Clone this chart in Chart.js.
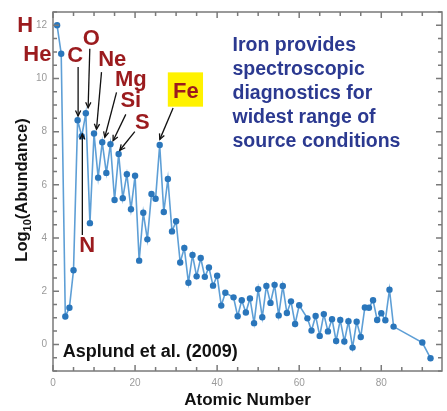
<!DOCTYPE html>
<html><head><meta charset="utf-8">
<script src="https://cdn.jsdelivr.net/npm/chart.js@4/dist/chart.umd.min.js"></script>
<style>html,body{margin:0;padding:0;background:#fff;}#wrap{width:447px;height:411px;}</style>
</head><body><div id="wrap"><canvas id="c" width="447" height="411"></canvas></div>
<script>
// ---- data ----
const atomicNumbers = [1,2,3,4,5,6,7,8,9,10,11,12,13,14,15,16,17,18,19,20,
  21,22,23,24,25,26,27,28,29,30,31,32,33,34,35,36,37,38,39,40,
  41,42,44,45,46,47,48,49,50,51,52,53,54,55,56,57,58,59,60,
  62,63,64,65,66,67,68,69,70,71,72,73,74,75,76,77,78,79,80,81,82,83,90,92];
const abundances = [12.00,10.93,1.05,1.38,2.79,8.43,7.83,8.69,4.56,7.93,6.27,7.60,6.45,7.53,5.43,7.16,5.50,6.40,5.08,6.34,
  3.15,4.95,3.95,5.66,5.48,7.50,4.98,6.22,4.25,4.63,3.08,3.63,2.32,3.36,2.56,3.25,2.54,2.89,2.21,2.58,
  1.46,1.94,1.77,1.06,1.66,1.20,1.73,0.80,2.08,1.02,2.20,1.56,2.24,1.09,2.20,1.18,1.62,0.77,1.47,
  0.98,0.52,1.07,0.32,1.14,0.49,0.95,0.13,0.92,0.11,0.87,-0.12,0.85,0.28,1.39,1.38,1.66,0.92,1.17,0.91,2.06,0.67,0.07,-0.52];
const xTickValues = [0,20,40,60,80];
const yTickValues = [0,2,4,6,8,10,12];
const xTitle = 'Atomic Number';
const elementNames = ['H','He','C','O','Ne','Mg','Si','S','Fe','N'];
const labelZ = [-6.75,-3.8,5.43,9.33,14.45,18.96,18.96,21.76,32.36,8.36];
const labelV = [11.96,10.88,10.86,11.5,10.68,9.96,9.14,8.31,9.51,3.72];
// arrows: [fromZ, fromV, toZ, toV]
const arrowC  = [6.12,10.43,6.12,8.59];
const arrowO  = [8.97,11.12,8.56,8.90];
const arrowNe = [11.82,10.24,10.6,8.09];
const arrowMg = [15.48,9.48,12.62,7.79];
const arrowSi = [17.74,8.65,14.65,7.66];
const arrowS  = [19.94,8.0,16.28,7.3];
const arrowFe = [29.27,8.89,26.03,7.71];
const arrowN  = [7.15,4.11,7.15,7.91];
const noteLines = ['Iron provides','spectroscopic','diagnostics for','widest range of','source conditions'];
const sourceNote = 'Asplund et al. (2009)';

const FONT = "'Liberation Sans', Arial, Helvetica, sans-serif";
const RED = '#9b1b1e', NAVY = '#2b3990';

const points = atomicNumbers.map((z,i)=>({x:z,y:abundances[i]}));

const framePlugin = {
  id:'frame',
  afterDatasetsDraw(chart){
    const {ctx, chartArea:a, scales:{x,y}} = chart;
    ctx.save();
    ctx.strokeStyle = '#7a7a7a';
    ctx.lineWidth = 1.5;
    ctx.beginPath();
    for (let v=0; v<=90; v+=5){
      const px = x.getPixelForValue(v);
      const L = (v%20===0)?6:4;
      ctx.moveTo(px,a.bottom); ctx.lineTo(px,a.bottom-L);
      ctx.moveTo(px,a.top); ctx.lineTo(px,a.top+L);
    }
    for (let v=-1; v<=12.5; v+=0.5){
      const py = y.getPixelForValue(v);
      const L = (v%2===0)?6:4;
      ctx.moveTo(a.left,py); ctx.lineTo(a.left+L,py);
      ctx.moveTo(a.right,py); ctx.lineTo(a.right-L,py);
    }
    ctx.stroke();
    ctx.strokeRect(a.left,a.top,a.right-a.left,a.bottom-a.top);
    ctx.restore();
  }
};

function arrow(ctx,x,y,arr){
  const x1=x.getPixelForValue(arr[0]), y1=y.getPixelForValue(arr[1]);
  const x2=x.getPixelForValue(arr[2]), y2=y.getPixelForValue(arr[3]);
  ctx.beginPath(); ctx.moveTo(x1,y1); ctx.lineTo(x2,y2); ctx.stroke();
  const ang=Math.atan2(y2-y1,x2-x1), h=6, w=0.45;
  ctx.beginPath();
  ctx.moveTo(x2-h*Math.cos(ang-w), y2-h*Math.sin(ang-w));
  ctx.lineTo(x2,y2);
  ctx.lineTo(x2-h*Math.cos(ang+w), y2-h*Math.sin(ang+w));
  ctx.stroke();
}

const annotPlugin = {
  id:'annot',
  afterDraw(chart){
    const {ctx, chartArea:a, scales:{x,y}} = chart;
    ctx.save();
    // Fe highlight box
    const bx1=x.getPixelForValue(27.98), bx2=x.getPixelForValue(36.56);
    const by1=y.getPixelForValue(10.23), by2=y.getPixelForValue(8.94);
    ctx.fillStyle='#fff200';
    ctx.fillRect(bx1,by1,bx2-bx1,by2-by1);
    // element labels
    ctx.fillStyle=RED;
    ctx.font='bold 22px '+FONT;
    ctx.textAlign='center'; ctx.textBaseline='middle';
    elementNames.forEach((t,i)=>{
      ctx.fillText(t, x.getPixelForValue(labelZ[i]), y.getPixelForValue(labelV[i]));
    });
    // arrows
    ctx.strokeStyle='#111'; ctx.lineWidth=1.3;
    [arrowC,arrowO,arrowNe,arrowMg,arrowSi,arrowS,arrowFe,arrowN].forEach(ar=>arrow(ctx,x,y,ar));
    // note text
    ctx.fillStyle=NAVY;
    ctx.font='bold 19.5px '+FONT;
    ctx.textAlign='left';
    const nx=x.getPixelForValue(43.75), ny=y.getPixelForValue(11.23);
    noteLines.forEach((t,i)=>ctx.fillText(t,nx,ny+i*24));
    // source
    ctx.fillStyle='#111';
    ctx.font='bold 18px '+FONT;
    ctx.fillText(sourceNote, x.getPixelForValue(2.39), y.getPixelForValue(-0.28));
    // y title with subscript
    ctx.translate(a.left-32, (a.top+a.bottom)/2-1.5);
    ctx.rotate(-Math.PI/2);
    ctx.fillStyle='#111';
    const f1='bold 16.5px '+FONT, f2='bold 11px '+FONT;
    ctx.font=f1; const w1=ctx.measureText('Log').width, w3=ctx.measureText('(Abundance)').width;
    ctx.font=f2; const w2=ctx.measureText('10').width;
    let sx=-(w1+w2+w3)/2;
    ctx.textAlign='left'; ctx.textBaseline='alphabetic';
    ctx.font=f1; ctx.fillText('Log',sx,6); sx+=w1;
    ctx.font=f2; ctx.fillText('10',sx,9.5); sx+=w2;
    ctx.font=f1; ctx.fillText('(Abundance)',sx,6);
    ctx.restore();
  }
};

new Chart(document.getElementById('c').getContext('2d'), {
  type:'line',
  data:{datasets:[{data:points, borderColor:'#5e9fd6', borderWidth:1.6,
    pointBackgroundColor:'#2a76bb', pointBorderColor:'#2a76bb', pointRadius:3.2, pointBorderWidth:0,
    tension:0, fill:false}]},
  options:{
    responsive:false, animation:false, devicePixelRatio:1,
    layout:{padding:{top:5,right:5,left:0,bottom:0}},
    plugins:{legend:{display:false}, tooltip:{enabled:false}},
    scales:{
      x:{type:'linear', min:0, max:94.8,
        afterBuildTicks:s=>{s.ticks=xTickValues.map(v=>({value:v}));},
        afterFit:s=>{s.height=40;},
        grid:{display:false, drawTicks:false}, border:{display:false},
        ticks:{color:'#9a9a9a', font:{size:10,family:FONT}, padding:6, maxRotation:0, autoSkip:false},
        title:{display:true, text:xTitle, color:'#111', font:{size:17,weight:'bold',family:FONT}, padding:0}
      },
      y:{type:'linear', min:-1, max:12.5,
        afterBuildTicks:s=>{s.ticks=yTickValues.map(v=>({value:v}));},
        afterFit:s=>{s.width=53;},
        grid:{display:false, drawTicks:false}, border:{display:false},
        ticks:{color:'#9a9a9a', font:{size:10,family:FONT}, padding:6, autoSkip:false}
      }
    }
  },
  plugins:[framePlugin, annotPlugin]
});
</script></body></html>
